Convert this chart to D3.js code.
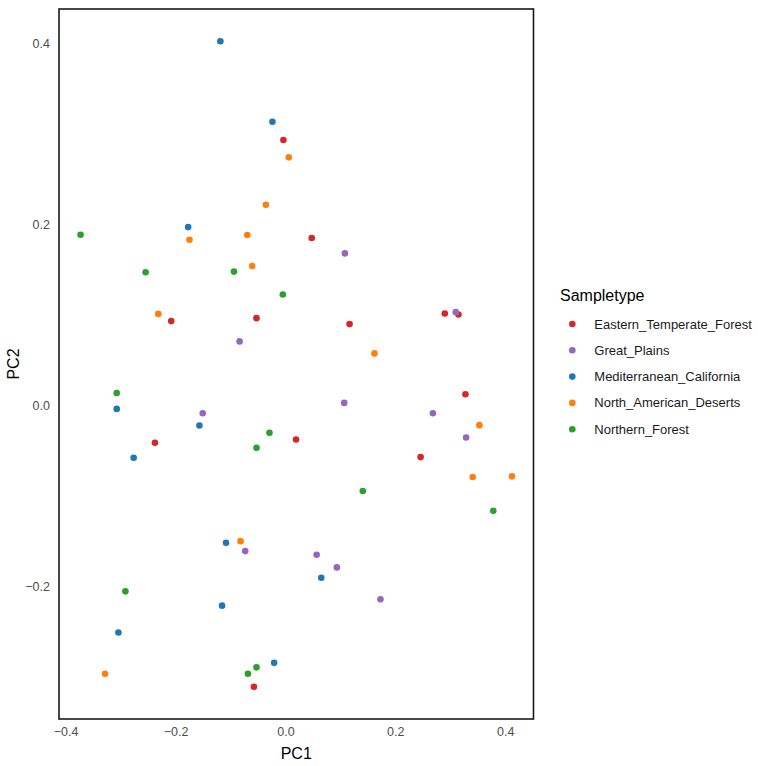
<!DOCTYPE html>
<html>
<head>
<meta charset="utf-8">
<script src="https://cdn.jsdelivr.net/npm/d3@7"></script>
<style>
  body { margin: 0; background: #fff; }
  svg { display: block; font-family: "Liberation Sans", Arial, sans-serif; }
</style>
</head>
<body>
<svg id="chart" width="758" height="766"></svg>
<script>
// sample types, in legend order
var groups = ["Eastern_Temperate_Forest", "Great_Plains", "Mediterranean_California",
              "North_American_Deserts", "Northern_Forest"];
var colors = ["#d62728", "#9467bd", "#1f77b4", "#ff7f0e", "#2ca02c"];

// PC1 / PC2 per group
var easternPC1 = [-0.0036, 0.0479, -0.2078, -0.0526, 0.1168, 0.2901, 0.315, 0.3277, -0.2375, 0.0194, 0.2461, -0.0573];
var easternPC2 = [0.2939, 0.1855, 0.0937, 0.097, 0.0904, 0.1021, 0.101, 0.0129, -0.0408, -0.0371, -0.0566, -0.3104];

var plainsPC1 = [0.1083, -0.0834, -0.1505, 0.3101, 0.107, 0.2684, 0.3289, -0.0731, 0.0569, 0.0937, 0.173];
var plainsPC2 = [0.1686, 0.0713, -0.0081, 0.1036, 0.0033, -0.0081, -0.0349, -0.1605, -0.1645, -0.1785, -0.2138];

var medPC1 = [-0.1184, -0.0236, -0.177, -0.307, -0.1565, -0.2762, -0.1081, -0.1153, -0.3039, -0.0205, 0.0653];
var medPC2 = [0.403, 0.314, 0.1976, -0.0033, -0.0217, -0.0573, -0.1513, -0.2208, -0.2505, -0.284, -0.1899];

var desertPC1 = [0.0061, -0.0355, -0.1746, -0.0694, -0.0604, -0.2314, 0.1621, 0.353, 0.3409, 0.4123, -0.0816, -0.3282];
var desertPC2 = [0.2747, 0.2222, 0.1837, 0.1888, 0.1546, 0.1017, 0.058, -0.0213, -0.0786, -0.0779, -0.1495, -0.2961];

var northPC1 = [-0.3728, -0.2544, -0.0936, -0.0047, -0.307, -0.029, -0.0526, 0.1409, 0.3784, -0.2912, -0.0526, -0.0682];
var northPC2 = [0.1892, 0.1477, 0.1484, 0.1231, 0.0143, -0.0298, -0.0463, -0.094, -0.116, -0.205, -0.289, -0.2961];

var xTicks = [-0.4, -0.2, 0.0, 0.2, 0.4];
var yTicks = [-0.2, 0.0, 0.2, 0.4];

var series = [
  [easternPC1, easternPC2],
  [plainsPC1, plainsPC2],
  [medPC1, medPC2],
  [desertPC1, desertPC2],
  [northPC1, northPC2]
];

var points = [];
series.forEach(function(s, gi) {
  s[0].forEach(function(v, i) {
    points.push({ group: groups[gi], pc1: v, pc2: s[1][i] });
  });
});

var svg = d3.select("#chart");
// panel edges (note: "top" is taken by window.top)
var panelL = 59, panelR = 533.5, panelT = 9, panelB = 719;

function expand(ext) {
  var d = (ext[1] - ext[0]) * 0.05;
  return [ext[0] - d, ext[1] + d];
}

var x = d3.scaleLinear()
  .domain(expand(d3.extent(points, function(d) { return d.pc1; })))
  .range([panelL, panelR]);
var y = d3.scaleLinear()
  .domain(expand(d3.extent(points, function(d) { return d.pc2; })))
  .range([panelB, panelT]);
var color = d3.scaleOrdinal().domain(groups).range(colors);

// axes: labels only, no tick marks
var xAxis = svg.append("g")
  .attr("transform", "translate(0," + panelB + ")")
  .call(d3.axisBottom(x).tickValues(xTicks).tickFormat(d3.format(".1f")).tickSize(0).tickPadding(8));
var yAxis = svg.append("g")
  .attr("transform", "translate(" + panelL + ",0)")
  .call(d3.axisLeft(y).tickValues(yTicks).tickFormat(d3.format(".1f")).tickSize(0).tickPadding(9));
[xAxis, yAxis].forEach(function(a) {
  a.select(".domain").remove();
  a.selectAll("text").attr("fill", "#4d4d4d").style("font-size", "12.5px")
    .style("font-family", "'Liberation Sans', Arial, sans-serif");
});

svg.append("g").selectAll("circle")
  .data(points)
  .join("circle")
  .attr("cx", function(d) { return x(d.pc1); })
  .attr("cy", function(d) { return y(d.pc2); })
  .attr("r", 3.3)
  .attr("fill", function(d) { return color(d.group); });

svg.append("rect")
  .attr("x", panelL).attr("y", panelT)
  .attr("width", panelR - panelL).attr("height", panelB - panelT)
  .attr("fill", "none").attr("stroke", "#1a1a1a").attr("stroke-width", 1.6);

svg.append("text")
  .attr("x", (panelL + panelR) / 2).attr("y", 759)
  .attr("text-anchor", "middle").style("font-size", "16px").text("PC1");
svg.append("text")
  .attr("transform", "translate(19," + ((panelT + panelB) / 2) + ") rotate(-90)")
  .attr("text-anchor", "middle").style("font-size", "16px").text("PC2");

// legend
var legend = svg.append("g").attr("transform", "translate(560,0)");
legend.append("text").attr("x", 0).attr("y", 301).style("font-size", "16px").text("Sampletype");
var item = legend.selectAll("g.item")
  .data(groups)
  .join("g")
  .attr("class", "item")
  .attr("transform", function(d, i) { return "translate(0," + (324 + i * 26.3) + ")"; });
item.append("circle").attr("cx", 12.3).attr("cy", 0).attr("r", 3.3)
  .attr("fill", function(d) { return color(d); });
item.append("text").attr("x", 34.3).attr("y", 0).attr("dy", "0.35em")
  .style("font-size", "13px").attr("fill", "#1a1a1a").text(function(d) { return d; });
</script>
</body>
</html>
